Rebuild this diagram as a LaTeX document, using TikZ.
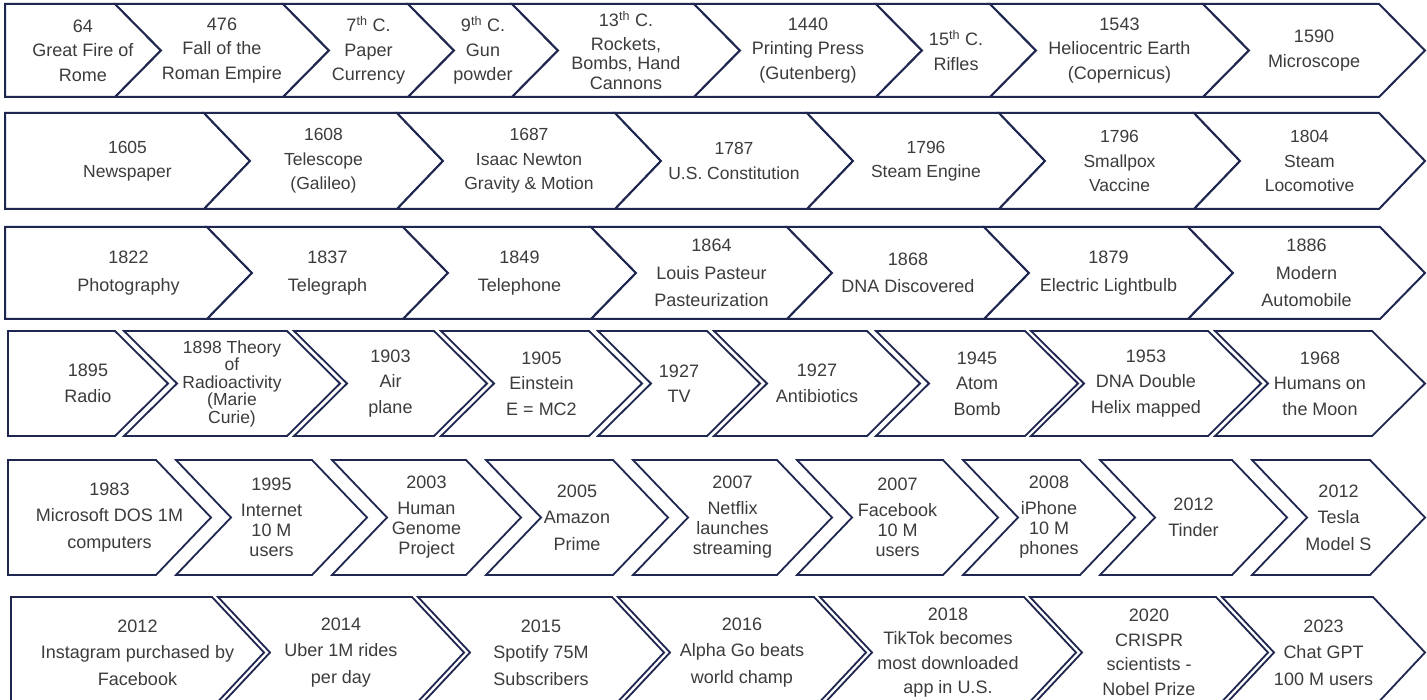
\documentclass[tikz,border=0pt]{standalone}
\usepackage{fontspec}
\setmainfont{Liberation Sans}
\newfontfamily\fnorm{Liberation Sans}
\definecolor{outl}{HTML}{1F2650}
\definecolor{txt}{HTML}{3C3C3C}
\tikzset{
  shp/.style={draw=outl, line width=2pt, fill=white, line join=miter},
  shpthin/.style={draw=outl, line width=1.8pt, fill=white, line join=miter},
  lbl/.style={align=center, text=txt, inner sep=0pt},
  r1/.style={lbl, font=\fnorm\fontsize{18}{24.5}\selectfont},
  r1t/.style={lbl, font=\fnorm\fontsize{18}{19.5}\selectfont},
  r2/.style={lbl, font=\fnorm\fontsize{17.5}{24.5}\selectfont},
  r3/.style={lbl, font=\fnorm\fontsize{18}{27.5}\selectfont},
  r4/.style={lbl, font=\fnorm\fontsize{18}{25.5}\selectfont},
  r4t/.style={lbl, font=\fnorm\fontsize{17.5}{17.5}\selectfont},
  r5/.style={lbl, font=\fnorm\fontsize{18}{26.5}\selectfont},
  r5t/.style={lbl, font=\fnorm\fontsize{18}{20}\selectfont},
  r6/.style={lbl, font=\fnorm\fontsize{18}{26.5}\selectfont},
  r6t/.style={lbl, font=\fnorm\fontsize{18}{24.5}\selectfont},
}
% #1 name, #2 xl, #3 xr, #4 yt, #5 yb, #6 depth, #7 shape style, #8 label style, #9 text
\newcommand{\chevshape}[9]{%
  \draw[#7] (#2,#4) -- (#3,#4) -- ({#3+#6},{(#4+#5)/2}) -- (#3,#5) -- (#2,#5) -- ({#2+#6},{(#4+#5)/2}) -- cycle;
  \node[#8] (#1) at ({(#2+#3+#6)/2},{(#4+#5)/2}) {#9};
}
\newcommand{\firstshape}[9]{%
  \draw[#7] (#2,#4) -- (#3,#4) -- ({#3+#6},{(#4+#5)/2}) -- (#3,#5) -- (#2,#5) -- cycle;
  \node[#8] (#1) at ({(#2+#3+#6)/2},{(#4+#5)/2}) {#9};
}
\begin{document}
\begin{tikzpicture}[x=1pt,y=-1pt]
\useasboundingbox[fill=white] (0,0) rectangle (1427,700);
\clip (0,0) rectangle (1427,700);
% Row 1
\firstshape{a1}{5}{115}{4}{97}{46}{shp}{r1}{64\\Great Fire of\\Rome}
\chevshape{a2}{115}{283}{4}{97}{46}{shp}{r1}{476\\Fall of the\\Roman Empire}
\chevshape{a3}{283}{408}{4}{97}{46}{shp}{r1}{7\textsuperscript{th} C.\\Paper\\Currency}
\chevshape{a4}{408}{512}{4}{97}{46}{shp}{r1}{9\textsuperscript{th} C.\\Gun\\powder}
\chevshape{a5}{512}{694}{4}{97}{46}{shp}{r1t}{13\textsuperscript{th} C.\\[4pt]Rockets,\\Bombs, Hand\\Cannons}
\chevshape{a6}{694}{876}{4}{97}{46}{shp}{r1}{1440\\Printing Press\\(Gutenberg)}
\chevshape{a7}{876}{990}{4}{97}{46}{shp}{r1}{15\textsuperscript{th} C.\\Rifles}
\chevshape{a8}{990}{1203}{4}{97}{46}{shp}{r1}{1543\\Heliocentric Earth\\(Copernicus)}
\chevshape{a9}{1203}{1379}{4}{97}{46}{shp}{r1}{1590\\Microscope}
% Row 2
\firstshape{b1}{5}{204}{113}{209}{46}{shp}{r2}{1605\\Newspaper}
\chevshape{b2}{204}{397}{113}{209}{46}{shp}{r2}{1608\\Telescope\\(Galileo)}
\chevshape{b3}{397}{615}{113}{209}{46}{shp}{r2}{1687\\Isaac Newton\\Gravity \& Motion}
\chevshape{b4}{615}{807}{113}{209}{46}{shp}{r2}{1787\\U.S. Constitution}
\chevshape{b5}{807}{999}{113}{209}{46}{shp}{r2}{1796\\Steam Engine}
\chevshape{b6}{999}{1194}{113}{209}{46}{shp}{r2}{1796\\Smallpox\\Vaccine}
\chevshape{b7}{1194}{1379}{113}{209}{46}{shp}{r2}{1804\\Steam\\Locomotive}
% Row 3
\firstshape{c1}{5}{207}{227}{319}{45}{shp}{r3}{1822\\Photography}
\chevshape{c2}{207}{403}{227}{319}{45}{shp}{r3}{1837\\Telegraph}
\chevshape{c3}{403}{591}{227}{319}{45}{shp}{r3}{1849\\Telephone}
\chevshape{c4}{591}{787}{227}{319}{45}{shp}{r3}{1864\\Louis Pasteur\\Pasteurization}
\chevshape{c5}{787}{984}{227}{319}{45}{shp}{r3}{1868\\DNA Discovered}
\chevshape{c6}{984}{1188}{227}{319}{45}{shp}{r3}{1879\\Electric Lightbulb}
\chevshape{c7}{1188}{1380}{227}{319}{45}{shp}{r3}{1886\\Modern\\Automobile}
% Row 4
\firstshape{d1}{8}{115}{331}{436}{53}{shpthin}{r4}{1895\\Radio}
\chevshape{d2}{124}{287}{331}{436}{53}{shpthin}{r4t}{1898 Theory\\of\\Radioactivity\\(Marie\\Curie)}
\chevshape{d3}{294}{434}{331}{436}{53}{shpthin}{r4}{1903\\Air\\plane}
\chevshape{d4}{441}{589}{331}{436}{53}{shpthin}{r4}{1905\\Einstein\\E = MC2}
\chevshape{d5}{598}{707}{331}{436}{53}{shpthin}{r4}{1927\\TV}
\chevshape{d6}{714}{867}{331}{436}{53}{shpthin}{r4}{1927\\Antibiotics}
\chevshape{d7}{876}{1025}{331}{436}{53}{shpthin}{r4}{1945\\Atom\\Bomb}
\chevshape{d8}{1031}{1208}{331}{436}{53}{shpthin}{r4}{1953\\DNA Double\\Helix mapped}
\chevshape{d9}{1215}{1372}{331}{436}{53}{shpthin}{r4}{1968\\Humans on\\the Moon}
% Row 5
\firstshape{e1}{8}{156}{460}{575}{55}{shpthin}{r5}{1983\\Microsoft DOS 1M\\computers}
\chevshape{e2}{176}{312}{460}{575}{55}{shpthin}{r5t}{1995\\[6pt]Internet\\10 M\\users}
\chevshape{e3}{332}{466}{460}{575}{55}{shpthin}{r5t}{2003\\[6pt]Human\\Genome\\Project}
\chevshape{e4}{486}{613}{460}{575}{55}{shpthin}{r5}{2005\\Amazon\\Prime}
\chevshape{e5}{633}{777}{460}{575}{55}{shpthin}{r5t}{2007\\[6pt]Netflix\\launches\\streaming}
\chevshape{e6}{797}{943}{460}{575}{55}{shpthin}{r5t}{2007\\[6pt]Facebook\\10 M\\users}
\chevshape{e7}{963}{1080}{460}{575}{55}{shpthin}{r5t}{2008\\[6pt]iPhone\\10 M\\phones}
\chevshape{e8}{1100}{1232}{460}{575}{55}{shpthin}{r5}{2012\\Tinder}
\chevshape{e9}{1252}{1370}{460}{575}{55}{shpthin}{r5}{2012\\Tesla\\Model S}
% Row 6
\firstshape{f1}{11}{212}{597}{708}{52}{shpthin}{r6}{2012\\Instagram purchased by\\Facebook}
\chevshape{f2}{218}{412}{597}{708}{52}{shpthin}{r6}{2014\\Uber 1M rides\\per day}
\chevshape{f3}{418}{612}{597}{708}{52}{shpthin}{r6}{2015\\Spotify 75M\\Subscribers}
\chevshape{f4}{618}{814}{597}{708}{52}{shpthin}{r6}{2016\\Alpha Go beats\\world champ}
\chevshape{f5}{820}{1024}{597}{708}{52}{shpthin}{r6t}{2018\\TikTok becomes\\most downloaded\\app in U.S.}
\chevshape{f6}{1030}{1216}{597}{708}{52}{shpthin}{r6t}{2020\\CRISPR\\scientists -\\Nobel Prize}
\chevshape{f7}{1222}{1373}{597}{708}{52}{shpthin}{r6}{2023\\Chat GPT\\100 M users}
\end{tikzpicture}
\end{document}
